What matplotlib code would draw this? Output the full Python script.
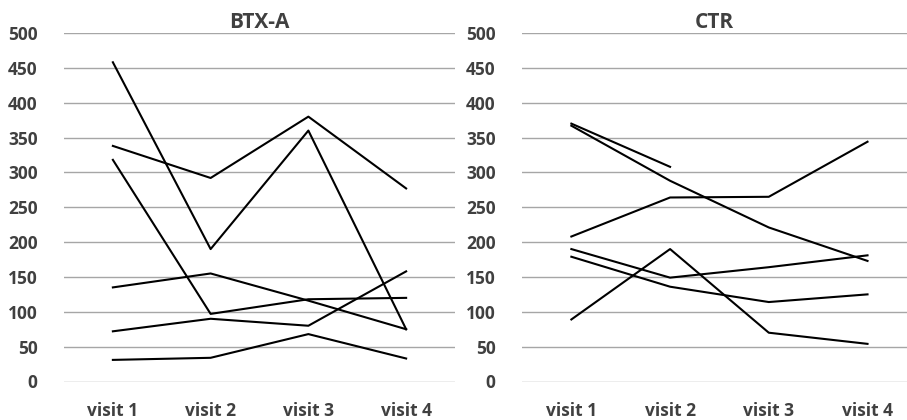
import matplotlib.pyplot as plt

# visits on the x axis
visits = ['visit 1', 'visit 2', 'visit 3', 'visit 4']

# BTX-A group, one list per subject
btx_1 = [458, 190, 360, 75]
btx_2 = [338, 292, 380, 277]
btx_3 = [318, 97, 118, 120]
btx_4 = [135, 155, 116, 75]
btx_5 = [72, 90, 80, 158]
btx_6 = [31, 34, 68, 33]

# CTR group (first subject has only two visits)
ctr_1 = [370, 308, None, None]
ctr_2 = [367, 288, 221, 173]
ctr_3 = [208, 264, 265, 344]
ctr_4 = [190, 149, 164, 181]
ctr_5 = [179, 136, 114, 125]
ctr_6 = [89, 190, 70, 54]

btx = [btx_1, btx_2, btx_3, btx_4, btx_5, btx_6]
ctr = [ctr_1, ctr_2, ctr_3, ctr_4, ctr_5, ctr_6]

plt.rcParams['font.family'] = ['Open Sans', 'DejaVu Sans']
txt = '#404040'

fig = plt.figure(figsize=(9.07, 4.20), dpi=100)
ax1 = fig.add_axes([64/907, 38.5/420, 391/907, 348.5/420])
ax2 = fig.add_axes([522/907, 38.5/420, 385/907, 348.5/420])


def draw(ax, series, title, right):
    x = list(range(len(visits)))
    for s in series:
        pts = [(xi, v) for xi, v in zip(x, s) if v is not None]
        ax.plot([p[0] for p in pts], [p[1] for p in pts], color='black',
                lw=1.5, clip_on=False, zorder=3)
    ax.set_ylim(0, 500)
    ax.set_xlim(-0.5, right)
    ax.set_yticks(range(0, 501, 50))
    ax.set_xticks(x)
    ax.set_xticklabels(visits)
    ax.grid(axis='y', color='#a6a6a6', lw=1)
    ax.set_axisbelow(True)
    for sp in ax.spines.values():
        sp.set_visible(False)
    ax.tick_params(axis='y', length=0, pad=19, labelsize=12.5, labelcolor=txt)
    ax.tick_params(axis='x', length=0, pad=15, labelsize=12.5, labelcolor=txt)
    for lab in ax.get_xticklabels() + ax.get_yticklabels():
        lab.set_fontweight('bold')
    ax.set_title(title, fontsize=15, fontweight='bold', color=txt, pad=3)


draw(ax1, btx, 'BTX-A', 3.5)
draw(ax2, ctr, 'CTR', 3.4)

fig.savefig('out.png', dpi=100)
